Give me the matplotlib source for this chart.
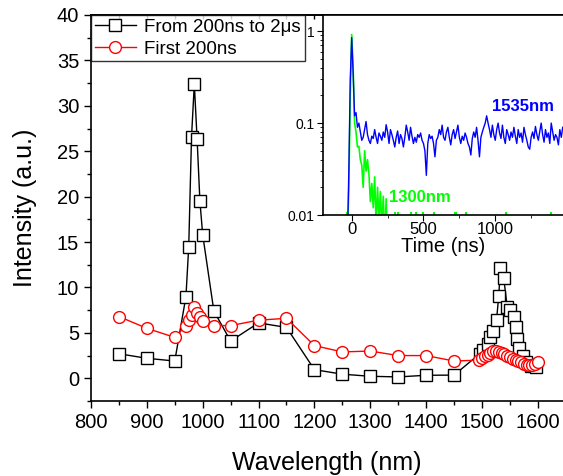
"""
Spettri di emissione (main) + decadimenti temporali (inset, scala log).
"""

import numpy as np
import matplotlib
matplotlib.use("Agg")
import matplotlib.pyplot as plt
from matplotlib.ticker import MultipleLocator, LogLocator, NullFormatter

plt.rcParams["font.family"] = ["Liberation Sans", "DejaVu Sans"]

# ---------------------------------------------------------------------------
# Dati spettro: "From 200ns to 2us" (quadrati neri)
# ---------------------------------------------------------------------------
wl_late = [850, 900, 950, 970, 975, 980, 985, 990, 995, 1000,
           1020, 1050, 1100, 1150, 1200, 1250, 1300, 1350, 1400, 1450,
           1496, 1502, 1510, 1515, 1520, 1526, 1530, 1533, 1539, 1545,
           1550, 1557, 1560, 1563, 1567, 1573, 1579, 1588, 1597]
int_late = [2.7, 2.2, 1.9, 9.0, 14.5, 26.6, 32.4, 26.3, 19.5, 15.8,
            7.4, 4.1, 6.1, 5.6, 0.95, 0.45, 0.22, 0.15, 0.33, 0.35,
            2.7, 3.1, 3.8, 4.5, 5.2, 6.4, 9.1, 12.1, 11.0, 7.9,
            7.5, 6.8, 5.7, 4.3, 3.3, 2.4, 1.8, 1.3, 1.2]

# ---------------------------------------------------------------------------
# Dati spettro: "First 200ns" (cerchi rossi)
# ---------------------------------------------------------------------------
wl_early = [850, 900, 950, 970, 975, 980, 985, 990, 995, 1000,
            1020, 1050, 1100, 1150, 1200, 1250, 1300, 1350, 1400, 1450,
            1495, 1500, 1505, 1510, 1515, 1520, 1525, 1530, 1535, 1540,
            1545, 1550, 1555, 1560, 1565, 1570, 1575, 1580, 1585, 1590,
            1595, 1600]
int_early = [6.8, 5.5, 4.5, 5.8, 6.4, 7.0, 7.9, 7.2, 6.7, 6.3,
             5.8, 5.8, 6.4, 6.6, 3.6, 2.9, 3.0, 2.5, 2.5, 1.9,
             2.0, 2.2, 2.5, 2.6, 2.8, 3.0, 3.0, 2.9, 2.8, 2.7,
             2.5, 2.3, 2.1, 2.0, 1.9, 1.8, 1.6, 1.5, 1.5, 1.5,
             1.6, 1.8]

# ---------------------------------------------------------------------------
# Dati inset: decadimenti (campionati ogni 10 ns a partire da -30 ns)
# ---------------------------------------------------------------------------
t_start = -30
t_step = 10
decay_1535 = [
    0.005, 0.03, 0.3, 0.85, 0.35, 0.12, 0.13, 0.09, 0.10, 0.08,
    0.065, 0.07, 0.085, 0.104, 0.075, 0.065, 0.06, 0.072, 0.068, 0.085,
    0.07, 0.06, 0.078, 0.072, 0.065, 0.08, 0.07, 0.096, 0.08, 0.06,
    0.085, 0.075, 0.065, 0.055, 0.07, 0.082, 0.06, 0.075, 0.068, 0.055,
    0.07, 0.095, 0.08, 0.065, 0.09, 0.072, 0.06, 0.07, 0.062, 0.075,
    0.07, 0.078, 0.065, 0.06, 0.05, 0.027, 0.06, 0.075, 0.068, 0.072,
    0.06, 0.043, 0.065, 0.07, 0.085, 0.075, 0.095, 0.07, 0.065, 0.08,
    0.09, 0.07, 0.058, 0.075, 0.085, 0.068, 0.08, 0.095, 0.07, 0.06,
    0.072, 0.065, 0.078, 0.07, 0.06, 0.055, 0.045, 0.068, 0.08, 0.07,
    0.09, 0.065, 0.043, 0.07, 0.08, 0.09, 0.1, 0.12, 0.1, 0.085,
    0.07, 0.095, 0.075, 0.065, 0.085, 0.1, 0.078, 0.068, 0.095, 0.07,
    0.06, 0.085, 0.075, 0.065, 0.08, 0.07, 0.09, 0.072, 0.06, 0.085,
    0.07, 0.078, 0.062, 0.09, 0.075, 0.065, 0.055, 0.052, 0.07, 0.08,
    0.068, 0.092, 0.075, 0.065, 0.08, 0.1, 0.075, 0.062, 0.085, 0.07,
    0.078, 0.06, 0.1, 0.08, 0.065, 0.075, 0.07, 0.058, 0.085, 0.07,
    0.09]
decay_1300 = [
    0.005, 0.02, 0.2, 0.92, 0.4, 0.1, 0.08, 0.055, 0.056, 0.04,
    0.035, 0.02, 0.05, 0.03, 0.04, 0.028, 0.014, 0.022, 0.012, 0.026,
    0.008, 0.02, 0.009, 0.018, 0.007, 0.016, 0.005, 0.015, 0.005, 0.005]
# picchi isolati del segnale a 1300 nm appena sopra il fondo scala
spikes_1300 = [-30, 300, 320, 410, 445, 500, 570, 720, 730, 795, 1075, 1385]

t_1535 = t_start + t_step * np.arange(len(decay_1535))
t_1300 = t_start + t_step * np.arange(len(decay_1300))

# ---------------------------------------------------------------------------
# Figura principale
# ---------------------------------------------------------------------------
fig = plt.figure(figsize=(5.63, 4.76), dpi=100)
ax = fig.add_axes([0.1616, 0.1576, 0.8384, 0.8109])

ax.plot(wl_late, int_late, color="black", lw=1.0, marker="s", ms=8,
        mfc="white", mec="black", mew=1.0, label="From 200ns to 2\u03bcs",
        zorder=3)
ax.plot(wl_early, int_early, color="red", lw=1.0, marker="o", ms=8.5,
        mfc="white", mec="red", mew=1.0, label="First 200ns", zorder=4)

ax.set_xlim(800, 1645)
ax.set_ylim(-2.5, 40)
ax.xaxis.set_major_locator(MultipleLocator(100))
ax.xaxis.set_minor_locator(MultipleLocator(50))
ax.yaxis.set_major_locator(MultipleLocator(5))
ax.yaxis.set_minor_locator(MultipleLocator(2.5))
ax.tick_params(which="major", direction="out", length=5, width=1.0,
               labelsize=14.5)
ax.tick_params(which="minor", direction="out", length=3, width=1.0)
ax.spines["right"].set_visible(False)
for s in ("left", "bottom", "top"):
    ax.spines[s].set_linewidth(1.2)

# tacche sul bordo superiore
top = ax.secondary_xaxis("top")
top.set_xticks(np.arange(800, 1650, 50))
top.tick_params(direction="in", length=3, width=1.0, labeltop=False)
top.spines["top"].set_linewidth(1.2)

ax.set_xlabel("Wavelength (nm)", fontsize=18, labelpad=14)
ax.set_ylabel("Intensity (a.u.)", fontsize=18, labelpad=14)

leg = ax.legend(loc="upper left", fontsize=13.5, frameon=True, fancybox=False,
                borderaxespad=0, borderpad=0.2, labelspacing=0.25,
                handlelength=2.2, handletextpad=0.45)
leg.get_frame().set_edgecolor("black")
leg.get_frame().set_linewidth(1.0)

# ---------------------------------------------------------------------------
# Inset: decadimenti temporali
# ---------------------------------------------------------------------------
axi = fig.add_axes([0.5737, 0.5483, 0.4263, 0.4202])
axi.set_facecolor("white")
axi.plot(t_1300, decay_1300, color="#00ff00", lw=1.2)
axi.vlines(spikes_1300, 0.01, 0.0108, color="#00ff00", lw=1.5)
axi.plot(t_1535, decay_1535, color="#0000ff", lw=1.0)

axi.set_yscale("log")
axi.set_xlim(-200, 1472)
axi.set_ylim(0.01, 1.5)
axi.set_yticks([0.01, 0.1, 1])
axi.set_yticklabels(["0.01", "0.1", "1"])
axi.yaxis.set_minor_locator(LogLocator(base=10, subs=np.arange(2, 10)))
axi.yaxis.set_minor_formatter(NullFormatter())
axi.xaxis.set_major_locator(MultipleLocator(500))
axi.xaxis.set_minor_locator(MultipleLocator(250))
axi.tick_params(axis="y", which="major", direction="out", length=4,
                labelsize=10, pad=2)
axi.tick_params(axis="y", which="minor", direction="out", length=2)
axi.tick_params(axis="x", which="major", direction="out", length=4,
                labelsize=12, pad=1)
axi.tick_params(axis="x", which="minor", direction="out", length=2)
axi.spines["right"].set_visible(False)
for s in ("left", "bottom", "top"):
    axi.spines[s].set_linewidth(1.2)
axi.set_xlabel("Time (ns)", fontsize=14.5, labelpad=0)

axi.text(979, 0.15, "1535nm", color="#0000ff", fontsize=12,
         fontweight="bold", va="center", ha="left")
axi.text(259, 0.0154, "1300nm", color="#00ff00", fontsize=12,
         fontweight="bold", va="center", ha="left")

fig.savefig("out.png", dpi=100)
